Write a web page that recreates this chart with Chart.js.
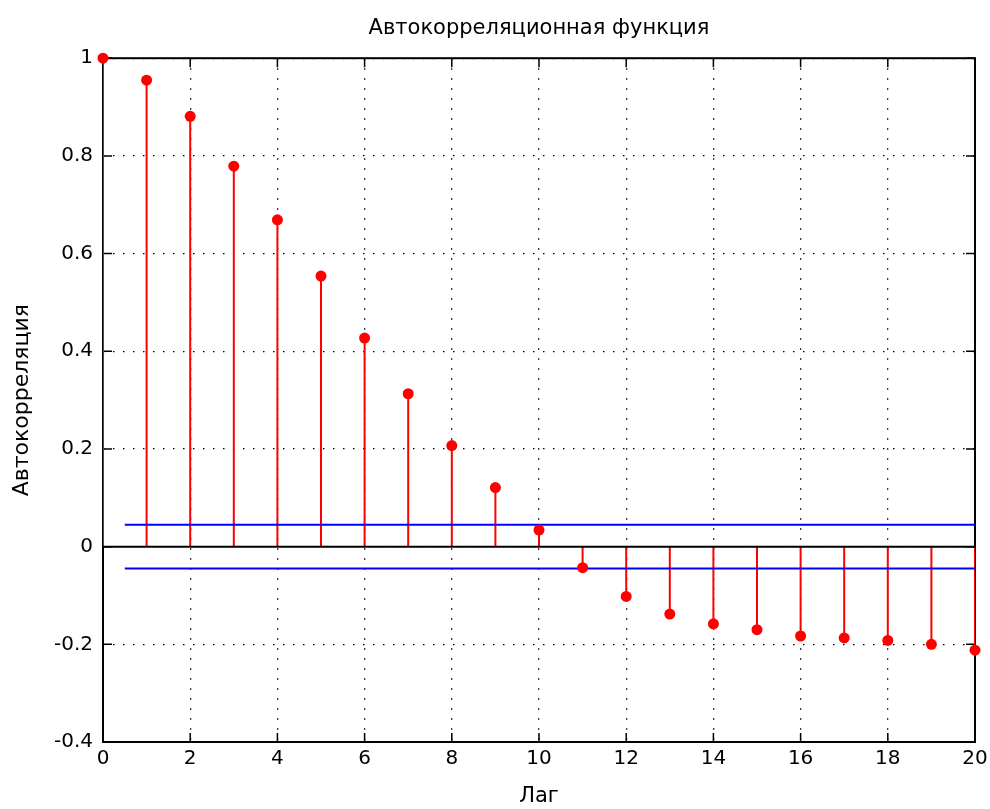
<!DOCTYPE html>
<html>
<head>
<meta charset="utf-8">
<title>Автокорреляционная функция</title>
<script src="https://cdn.jsdelivr.net/npm/chart.js@4"></script>
<style>
  body { margin: 0; background: #fff; }
  canvas { display: block; }
</style>
</head>
<body>
<canvas id="chart" width="990" height="809"></canvas>
<script>
'use strict';

const lags = [0, 1, 2, 3, 4, 5, 6, 7, 8, 9, 10, 11, 12, 13, 14, 15, 16, 17, 18, 19, 20];
const acf = [1, 0.955, 0.881, 0.779, 0.669, 0.554, 0.427, 0.313, 0.207, 0.121, 0.034,
  -0.043, -0.102, -0.138, -0.158, -0.170, -0.183, -0.187, -0.192, -0.200, -0.212];
const confBound = 0.045;
const confFrom = 0.5;
const xMin = 0, xMax = 20, xStep = 2;
const yMin = -0.4, yMax = 1, yStep = 0.2;

const fontFamily = 'DejaVu Sans';

// stems: (lag, 0) -> (lag, value), separated by gaps
let stems = [];
lags.forEach((lag, i) => {
  stems.push({x: lag, y: 0});
  stems.push({x: lag, y: acf[i]});
  stems.push({x: lag, y: null});
});

let markers = lags.map((lag, i) => ({x: lag, y: acf[i]}));

// box and inward ticks like matlab
const axesBox = {
  id: 'axesBox',
  beforeDatasetsDraw(chart) {
    const {ctx, chartArea: a, scales} = chart;
    const len = 9;
    ctx.save();
    ctx.strokeStyle = '#000';
    ctx.lineWidth = 1.5;
    scales.x.ticks.forEach(t => {
      const px = scales.x.getPixelForValue(t.value);
      ctx.beginPath();
      ctx.moveTo(px, a.bottom); ctx.lineTo(px, a.bottom - len);
      ctx.moveTo(px, a.top); ctx.lineTo(px, a.top + len);
      ctx.stroke();
    });
    scales.y.ticks.forEach(t => {
      const py = scales.y.getPixelForValue(t.value);
      ctx.beginPath();
      ctx.moveTo(a.left, py); ctx.lineTo(a.left + len, py);
      ctx.moveTo(a.right, py); ctx.lineTo(a.right - len, py);
      ctx.stroke();
    });
    ctx.lineWidth = 2;
    ctx.strokeRect(a.left, a.top, a.right - a.left, a.bottom - a.top);
    ctx.restore();
  }
};

const gridOpts = {
  color: '#000',
  lineWidth: 1.3,
  drawTicks: false,
};
const dotted = { display: false, dash: [1.5, 8.5] };

new Chart(document.getElementById('chart'), {
  type: 'line',
  data: {
    datasets: [{
      type: 'scatter',
      data: markers,
      pointRadius: 5.5,
      pointBackgroundColor: '#ff0000',
      pointBorderColor: '#ff0000',
      pointBorderWidth: 0,
      showLine: false,
      clip: false,
    }, {
      data: [{x: confFrom, y: confBound}, {x: xMax, y: confBound}],
      borderColor: '#0000ff',
      borderWidth: 2,
      pointRadius: 0,
    }, {
      data: [{x: confFrom, y: -confBound}, {x: xMax, y: -confBound}],
      borderColor: '#0000ff',
      borderWidth: 2,
      pointRadius: 0,
    }, {
      data: [{x: xMin, y: 0}, {x: xMax, y: 0}],
      borderColor: '#000',
      borderWidth: 2,
      pointRadius: 0,
    }, {
      data: stems,
      borderColor: '#ff0000',
      borderWidth: 2,
      pointRadius: 0,
      spanGaps: false,
    }]
  },
  options: {
    responsive: false,
    animation: false,
    devicePixelRatio: 1,
    layout: { padding: { left: 0, right: 15, top: 0, bottom: 0 } },
    plugins: {
      legend: { display: false },
      tooltip: { enabled: false },
      title: {
        display: true,
        text: 'Автокорреляционная функция',
        color: '#000',
        fullSize: false,
        font: { family: fontFamily, size: 21, weight: 'normal', lineHeight: 1.2 },
        padding: { top: 16, bottom: 17 },
      },
    },
    scales: {
      x: {
        type: 'linear',
        min: xMin,
        max: xMax,
        afterFit(scale) {
          scale.height = 67;
          scale.paddingRight = 0;
          scale.paddingLeft = 0;
        },
        grid: gridOpts,
        border: dotted,
        ticks: {
          stepSize: xStep,
          color: '#000',
          padding: 5,
          maxRotation: 0,
          font: { family: fontFamily, size: 20 },
        },
        title: {
          display: true,
          text: 'Лаг',
          color: '#000',
          font: { family: fontFamily, size: 21, lineHeight: 1.1 },
          padding: { top: 0, bottom: 1 },
        },
      },
      y: {
        type: 'linear',
        min: yMin,
        max: yMax,
        afterFit(scale) { scale.width = 103; },
        grid: gridOpts,
        border: dotted,
        ticks: {
          stepSize: yStep,
          color: '#000',
          padding: 10,
          font: { family: fontFamily, size: 20 },
          callback: v => String(Math.round(v * 10) / 10),
        },
        title: {
          display: true,
          text: 'Автокорреляция',
          color: '#000',
          font: { family: fontFamily, size: 22, lineHeight: 1.1 },
          padding: { top: 10, bottom: 0 },
        },
      },
    },
  },
  plugins: [axesBox],
});
</script>
</body>
</html>
